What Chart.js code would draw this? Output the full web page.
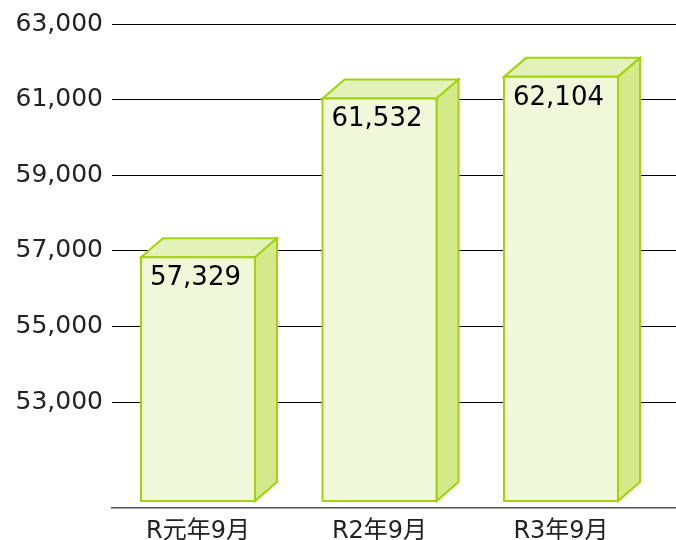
<!DOCTYPE html>
<html>
<head>
<meta charset="utf-8">
<script src="https://cdn.jsdelivr.net/npm/chart.js@4/dist/chart.umd.min.js"></script>
<style>
  html, body { margin: 0; padding: 0; background: #fff; }
  #wrap { width: 676px; height: 540px; }
</style>
</head>
<body>
<div id="wrap"><canvas id="c" width="676" height="540"></canvas></div>
<script>
const categories = ['R元年9月', 'R2年9月', 'R3年9月'];
const values = [57329, 61532, 62104];
const yTicks = [53000, 55000, 57000, 59000, 61000, 63000];

const FONT = '"DejaVu Sans", "Noto Sans CJK JP", sans-serif';

const box3d = {
  id: 'box3d',
  afterDatasetsDraw(chart) {
    const ctx = chart.ctx;
    const xs = chart.scales.x, ys = chart.scales.y, ca = chart.chartArea;
    const half = 57, dx = 22, dy = 19;
    ctx.save();
    ctx.lineWidth = 2;
    ctx.strokeStyle = '#a2d20e';
    ctx.lineJoin = 'miter';
    values.forEach((v, i) => {
      const cx = xs.getPixelForValue(i);
      const yv = ys.getPixelForValue(v);
      const L = cx - half, R = cx + half, T = yv + dy, B = ca.bottom - 7;
      ctx.beginPath();
      ctx.moveTo(L, T); ctx.lineTo(L + dx, T - dy); ctx.lineTo(R + dx, T - dy); ctx.lineTo(R, T); ctx.closePath();
      ctx.fillStyle = '#e2f2b9'; ctx.fill(); ctx.stroke();
      ctx.beginPath();
      ctx.moveTo(R, T); ctx.lineTo(R + dx, T - dy); ctx.lineTo(R + dx, B - dy); ctx.lineTo(R, B); ctx.closePath();
      ctx.fillStyle = '#d4e98a'; ctx.fill(); ctx.stroke();
      ctx.beginPath();
      ctx.rect(L, T, R - L, B - T);
      ctx.fillStyle = '#f1f8d9'; ctx.fill(); ctx.stroke();
      ctx.fillStyle = '#000';
      ctx.font = '26px ' + FONT;
      ctx.textAlign = 'left';
      ctx.textBaseline = 'alphabetic';
      ctx.fillText(v.toLocaleString('en-US'), L + 9, T + 28);
    });
    ctx.restore();
  }
};

new Chart(document.getElementById('c'), {
  type: 'bar',
  data: {
    datasets: [{
      data: values.map((v, i) => ({ x: i, y: v })),
      backgroundColor: 'rgba(0,0,0,0)',
      borderWidth: 0
    }]
  },
  options: {
    responsive: false,
    animation: false,
    layout: { padding: { top: 24, left: 0, right: 0, bottom: 0 } },
    plugins: { legend: { display: false }, tooltip: { enabled: false } },
    scales: {
      x: {
        type: 'linear',
        offset: false,
        min: -0.4738,
        max: 2.6336,
        afterBuildTicks: s => { s.ticks = categories.map((_, i) => ({ value: i })); },
        afterFit: s => { s.height = 32; },
        grid: { display: false, offset: false },
        border: { display: true, color: '#555', width: 1.5 },
        ticks: {
          autoSkip: false,
          maxRotation: 0,
          padding: 1,
          color: '#222',
          font: { family: FONT, size: 24 },
          callback: v => categories[v]
        }
      },
      y: {
        min: 50196,
        max: 63000,
        afterBuildTicks: s => { s.ticks = yTicks.map(v => ({ value: v })); },
        afterFit: s => { s.width = 112; },
        grid: { color: '#000', lineWidth: 1, drawTicks: false },
        border: { display: false },
        ticks: {
          padding: 9,
          color: '#222',
          font: { family: FONT, size: 25 },
          callback: v => Number(v).toLocaleString('en-US')
        }
      }
    }
  },
  plugins: [box3d]
});
</script>
</body>
</html>
